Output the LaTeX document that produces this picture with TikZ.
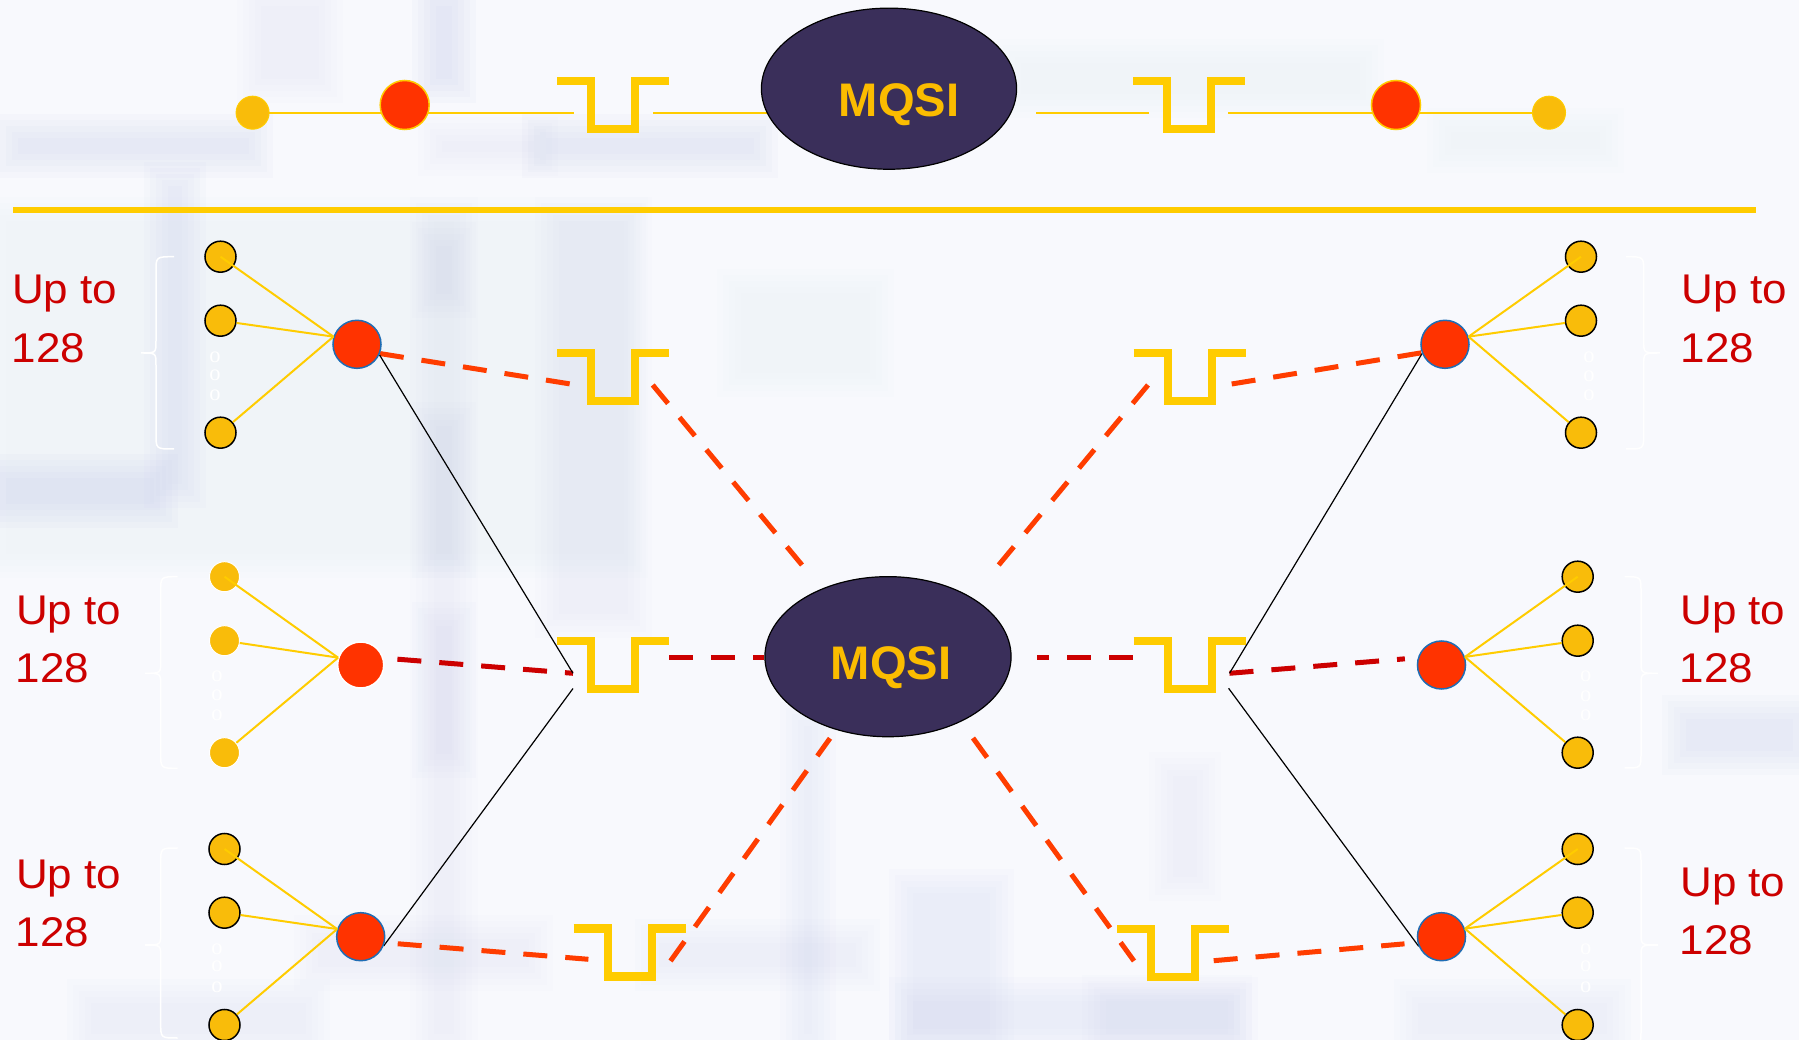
\documentclass[tikz,border=0pt]{standalone}
\usepackage{fontspec}
\setmainfont{Liberation Sans}
\newfontfamily\zerofont{Liberation Serif}
\usetikzlibrary{shapes.geometric,calc}
\definecolor{bgc}{HTML}{F8F9FD}
\definecolor{lav}{HTML}{C9CFEC}
\definecolor{swy}{HTML}{FFCC00}
\definecolor{doty}{HTML}{F9BC0A}
\definecolor{redn}{HTML}{FF3300}
\definecolor{bluo}{HTML}{1F6DB4}
\definecolor{mqf}{HTML}{3A2F5A}
\definecolor{mqt}{HTML}{FBBC00}
\definecolor{txr}{HTML}{CC0000}
\definecolor{dso}{HTML}{FF3D00}
\definecolor{dsr}{HTML}{CC0000}
\pgfdeclarelayer{bgzero}
\pgfdeclarelayer{bgone}
\pgfsetlayers{bgzero,bgone,main}
\newcommand\bgpatch[5]{\foreach \dd in {-6,0,6,12,18}{\fill[lav,opacity=#5] ({#1-\dd},{#2-\dd}) rectangle ({#3+\dd},{#4+\dd});}}
\newcommand\mybrace[6]{\draw[bracew] (#1,#4) .. controls (#2,#4) .. (#2,{#4+15}) -- (#2,{#5-12}) .. controls (#2,#5) .. (#3,#5) .. controls (#2,#5) .. (#2,{#5+12}) -- (#2,{#6-15}) .. controls (#2,#6) .. (#1,#6);}
\begin{document}
\begin{tikzpicture}[x=0.01cm,y=-0.01cm,
  dotk/.style={circle,draw=black,line width=0.15mm,fill=doty,minimum size=3.1mm,inner sep=0},
  dotw/.style={circle,draw=white,line width=0.1mm,fill=doty,minimum size=3.0mm,inner sep=0},
  dotz/.style={circle,draw=swy,line width=0.1mm,fill=doty,minimum size=3.3mm,inner sep=0},
  redb/.style={circle,draw=bluo,line width=0.15mm,fill=redn,minimum size=4.8mm,inner sep=0},
  redw/.style={circle,draw=white,line width=0.15mm,fill=redn,minimum size=4.6mm,inner sep=0},
  redy/.style={circle,draw=swy,line width=0.15mm,fill=redn,minimum size=4.9mm,inner sep=0},
  mqell/.style={ellipse,draw=black,line width=0.12mm,fill=mqf,inner sep=0},
  mqtext/.style={text=mqt,font=\fontsize{13.4pt}{16pt}\selectfont\bfseries,inner sep=0},
  uptext/.style={text=txr,font=\fontsize{11.8pt}{14pt}\selectfont,inner sep=0,anchor=base west},
  zerot/.style={text=white,font=\zerofont\fontsize{6.4pt}{7pt}\selectfont,inner sep=0},
  switchl/.style={draw=swy,line width=0.8mm,line join=miter},
  thiny/.style={draw=swy,line width=0.2mm},
  fanl/.style={draw=swy,line width=0.2mm},
  sepline/.style={draw=swy,line width=0.6mm},
  dasho/.style={draw=dso,line width=0.5mm,dash pattern=on 2.4mm off 1.8mm},
  dashr/.style={draw=dsr,line width=0.5mm,dash pattern=on 2.4mm off 1.8mm},
  blk/.style={draw=black,line width=0.12mm},
  bracew/.style={draw=white,line width=0.15mm}]
\useasboundingbox (0,0) rectangle (1799,1040);
\begin{pgfonlayer}{bgzero}
\fill[bgc] (0,0) rectangle (1799,1040);
\bgpatch{0}{215}{630}{560}{0.025}
\bgpatch{12}{132}{255}{160}{0.08}
\bgpatch{540}{132}{760}{160}{0.08}
\bgpatch{436}{135}{540}{158}{0.04}
\bgpatch{430}{0}{458}{85}{0.09}
\bgpatch{255}{0}{325}{85}{0.03}
\bgpatch{162}{180}{188}{490}{0.07}
\bgpatch{0}{472}{160}{510}{0.09}
\bgpatch{428}{215}{460}{1040}{0.03}
\bgpatch{430}{240}{458}{300}{0.05}
\bgpatch{430}{420}{458}{560}{0.05}
\bgpatch{430}{620}{458}{760}{0.05}
\bgpatch{553}{215}{634}{620}{0.035}
\bgpatch{735}{287}{876}{379}{0.025}
\bgpatch{798}{720}{818}{1040}{0.05}
\bgpatch{907}{887}{996}{1040}{0.055}
\bgpatch{907}{995}{1240}{1035}{0.055}
\bgpatch{653}{937}{862}{973}{0.045}
\bgpatch{85}{997}{312}{1040}{0.045}
\bgpatch{312}{933}{535}{973}{0.035}
\bgpatch{1680}{713}{1799}{757}{0.07}
\bgpatch{1167}{770}{1203}{883}{0.04}
\bgpatch{1100}{993}{1234}{1040}{0.045}
\bgpatch{1412}{997}{1613}{1040}{0.045}
\bgpatch{1015}{57}{1366}{100}{0.025}
\bgpatch{1445}{126}{1606}{155}{0.025}
\end{pgfonlayer}

% ---------- top row ----------
\node[dotz] (tdL) at (252.6,112.7) {};
\node[redy] (trL) at (404.7,105) {};
\coordinate (t1) at (574,112.7);
\coordinate (swT1) at (557,81);
\coordinate (t2) at (653,112.7);
\node[mqell,minimum width=25.5mm,minimum height=16.1mm] (mq1) at (889,88.7) {};
\node[mqtext] (mq1t) at (899,104.5) {MQSI};
\coordinate (t3) at (1036,112.7);
\coordinate (t4) at (1149,112.7);
\coordinate (swT2) at (1133,81);
\coordinate (t5) at (1228,112.7);
\node[redy] (trR) at (1396,105) {};
\node[dotz] (tdR) at (1549,112.7) {};
\begin{pgfonlayer}{bgone}
\draw[thiny] (tdL.center) -- (t1);
\draw[thiny] (t2) -- (t2 -| mq1.center);
\draw[thiny] (t3) -- (t4);
\draw[thiny] (t5) -- (tdR.center);
\end{pgfonlayer}
\draw[switchl] (swT1) -- ++(34,0) -- ++(0,48) -- ++(44,0) -- ++(0,-48) -- ++(34,0);
\draw[switchl] (swT2) -- ++(34,0) -- ++(0,48) -- ++(44,0) -- ++(0,-48) -- ++(34,0);

% separator
\coordinate (sepL) at (13,210);
\coordinate (sepR) at (1756,210);
\draw[sepline] (sepL) -- (sepR);

% ---------- lower part: nodes ----------
\node[mqell,minimum width=24.6mm,minimum height=16mm] (mq2) at (888,656.7) {};
\node[mqtext] (mq2t) at (891,668) {MQSI};

\node[redb] (rTL) at (357,344.3) {};
\node[redw] (rML) at (360.7,665) {};
\node[redb] (rBL) at (360.7,936.7) {};
\node[redb] (rTR) at (1445,344.3) {};
\node[redb] (rMR) at (1441.5,665) {};
\node[redb] (rBR) at (1441.5,936.7) {};

\node[dotk] (dTL1) at (220.5,256.7) {};
\node[dotk] (dTL2) at (220.5,320.7) {};
\node[dotk] (dTL3) at (220.5,432.7) {};
\node[dotw] (dML1) at (224.5,576.7) {};
\node[dotw] (dML2) at (224.5,640.7) {};
\node[dotw] (dML3) at (224.5,752.7) {};
\node[dotk] (dBL1) at (224.5,849) {};
\node[dotk] (dBL2) at (224.5,912.7) {};
\node[dotk] (dBL3) at (224.5,1025) {};
\node[dotk] (dTR1) at (1581,256.7) {};
\node[dotk] (dTR2) at (1581,320.7) {};
\node[dotk] (dTR3) at (1581,432.7) {};
\node[dotk] (dMR1) at (1577.7,576.7) {};
\node[dotk] (dMR2) at (1577.7,640.7) {};
\node[dotk] (dMR3) at (1577.7,752.7) {};
\node[dotk] (dBR1) at (1577.7,849) {};
\node[dotk] (dBR2) at (1577.7,912.7) {};
\node[dotk] (dBR3) at (1577.7,1025) {};

% fan lines
\draw[fanl] (dTL1.center) -- (rTL.162); \draw[fanl] (dTL2) -- (rTL.162); \draw[fanl] (dTL3) -- (rTL.162);
\draw[fanl] (dML1.center) -- (rML.162); \draw[fanl] (dML2) -- (rML.162); \draw[fanl] (dML3) -- (rML.162);
\draw[fanl] (dBL1.center) -- (rBL.162); \draw[fanl] (dBL2) -- (rBL.162); \draw[fanl] (dBL3) -- (rBL.162);
\draw[fanl] (dTR1.center) -- (rTR.18); \draw[fanl] (dTR2) -- (rTR.18); \draw[fanl] (dTR3) -- (rTR.18);
\draw[fanl] (dMR1.center) -- (rMR.19); \draw[fanl] (dMR2) -- (rMR.19); \draw[fanl] (dMR3) -- (rMR.19);
\draw[fanl] (dBR1.center) -- (rBR.19); \draw[fanl] (dBR2) -- (rBR.19); \draw[fanl] (dBR3) -- (rBR.19);

% switches
\coordinate (swA) at (557,352.7);
\coordinate (swB) at (1133.5,352.7);
\coordinate (swC) at (557,640.7);
\coordinate (swD) at (1133.5,640.7);
\coordinate (swE) at (573.5,928.5);
\coordinate (swF) at (1117,929);
\foreach \s in {swA,swB,swC,swD,swE,swF}{
  \draw[switchl] (\s) -- ++(34,0) -- ++(0,48) -- ++(44,0) -- ++(0,-48) -- ++(34,0);
}

% connector end points
\coordinate (pA1) at (570.5,384);
\coordinate (pA2) at (652.7,385);
\coordinate (pE1) at (802,565);
\coordinate (pB2) at (1148,385);
\coordinate (pE2) at (998.7,565);
\coordinate (pB1) at (1231.7,384);
\coordinate (jA) at (573,673.3);
\coordinate (jB) at (573,688.5);
\coordinate (pC2) at (669,658);
\coordinate (pD0) at (1036.6,658);
\coordinate (pD1) at (1132.6,658);
\coordinate (jC) at (1229.5,673.3);
\coordinate (jD) at (1228.6,688.3);
\coordinate (pE3) at (588.4,959.3);
\coordinate (pE4) at (670.5,961);
\coordinate (pE5) at (830,738.3);
\coordinate (pE6) at (973,738);
\coordinate (pF1) at (1134,961);
\coordinate (pF2) at (1213.7,960.7);

\begin{pgfonlayer}{bgone}
\draw[dasho] (rTL.-22) -- (pA1);
\draw[dasho] (pA2) -- (pE1);
\draw[dasho] (pB2) -- (pE2);
\draw[dasho] (pB1) -- (rTR.200);
\draw[dashr,shorten <=1.4mm] (rML.17) -- (jA);
\draw[dashr] (pC2) -- (pC2 -| mq2.west);
\draw[dashr] (pD1) -- (pD0);
\draw[dashr,shorten >=1.3mm] (jC) -- (rMR.163);
\draw[dasho,shorten <=1.3mm] (rBL.-14) -- (pE3);
\draw[dasho] (pE4) -- (pE5);
\draw[dasho] (pE6) -- (pF1);
\draw[dasho,shorten >=1.3mm] (pF2) -- (rBR.194);
\draw[blk] (rTL.-25) -- (jA);
\draw[blk] (jB) -- (rBL.-22);
\draw[blk] (rTR.-158) -- (jC);
\draw[blk] (jD) -- (rBR.203);
% braces
\mybrace{174}{156}{141}{256.7}{353}{449}
\mybrace{177.7}{160.7}{145}{576.7}{673.3}{768.3}
\mybrace{177.7}{160.7}{145}{848}{945}{1038}
\mybrace{1626}{1643.7}{1660}{256.7}{353}{449}
\mybrace{1624.5}{1641}{1658}{576.7}{673.3}{768}
\mybrace{1624.5}{1641}{1658}{848}{945}{1045}
\end{pgfonlayer}

% white small o's
\node[zerot] (zTL1) at (215,357.7) {o};
\node[zerot] (zTL2) at (215,375.7) {o};
\node[zerot] (zTL3) at (215,395.7) {o};
\node[zerot] (zML1) at (217,676.7) {o};
\node[zerot] (zML2) at (217,695.5) {o};
\node[zerot] (zML3) at (217,715) {o};
\node[zerot] (zBL1) at (217,949) {o};
\node[zerot] (zBL2) at (217,966.7) {o};
\node[zerot] (zBL3) at (217,987) {o};
\node[zerot] (zTR1) at (1589,357.7) {o};
\node[zerot] (zTR2) at (1589,376.7) {o};
\node[zerot] (zTR3) at (1589,395) {o};
\node[zerot] (zMR1) at (1585.7,676.7) {o};
\node[zerot] (zMR2) at (1585.7,696) {o};
\node[zerot] (zMR3) at (1585.7,715) {o};
\node[zerot] (zBR1) at (1585.7,949) {o};
\node[zerot] (zBR2) at (1585.7,966.7) {o};
\node[zerot] (zBR3) at (1585.7,987) {o};

% texts
\node[uptext] (uTLa) at (11.5,304) {\scalebox{1.06}[1]{Up to}};
\node[uptext] (uTLb) at (11,362.7) {\scalebox{1.06}[1]{128}};
\node[uptext] (uMLa) at (15.5,624.3) {\scalebox{1.06}[1]{Up to}};
\node[uptext] (uMLb) at (15,682.7) {\scalebox{1.06}[1]{128}};
\node[uptext] (uBLa) at (15.5,888.3) {\scalebox{1.06}[1]{Up to}};
\node[uptext] (uBLb) at (15,946.7) {\scalebox{1.06}[1]{128}};
\node[uptext] (uTRa) at (1681,304) {\scalebox{1.06}[1]{Up to}};
\node[uptext] (uTRb) at (1680,362.7) {\scalebox{1.06}[1]{128}};
\node[uptext] (uMRa) at (1679.6,624.3) {\scalebox{1.06}[1]{Up to}};
\node[uptext] (uMRb) at (1679,682.7) {\scalebox{1.06}[1]{128}};
\node[uptext] (uBRa) at (1679.6,896.7) {\scalebox{1.06}[1]{Up to}};
\node[uptext] (uBRb) at (1679,954) {\scalebox{1.06}[1]{128}};
\end{tikzpicture}
\end{document}
